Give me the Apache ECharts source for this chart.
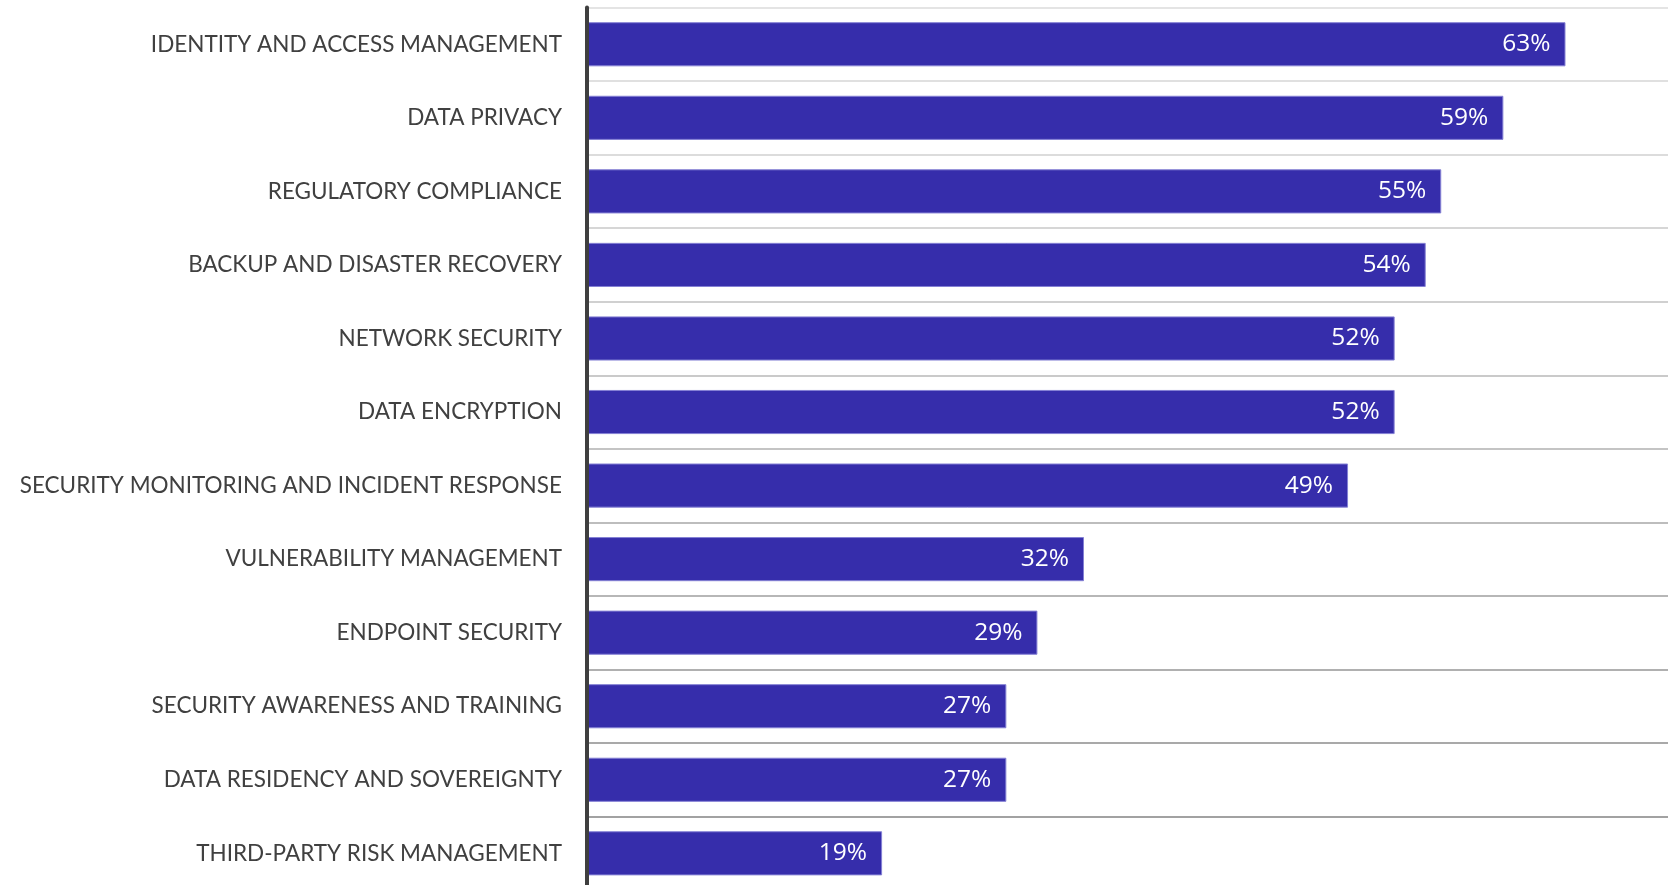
<!DOCTYPE html>
<html>
<head>
<meta charset="utf-8">
<title>Security priorities</title>
<script src="https://cdn.jsdelivr.net/npm/echarts@6/dist/echarts.min.js"></script>
<style>
  html, body { margin: 0; padding: 0; background: #ffffff; }
  #chart { width: 1670px; height: 885px; }
</style>
</head>
<body>
<div id="chart"></div>
<script>
// Categories, top to bottom
const categories = [
  'IDENTITY AND ACCESS MANAGEMENT',
  'DATA PRIVACY',
  'REGULATORY COMPLIANCE',
  'BACKUP AND DISASTER RECOVERY',
  'NETWORK SECURITY',
  'DATA ENCRYPTION',
  'SECURITY MONITORING AND INCIDENT RESPONSE',
  'VULNERABILITY MANAGEMENT',
  'ENDPOINT SECURITY',
  'SECURITY AWARENESS AND TRAINING',
  'DATA RESIDENCY AND SOVEREIGNTY',
  'THIRD-PARTY RISK MANAGEMENT'
];

// Share of respondents (%)
const shares = [63, 59, 55, 54, 52, 52, 49, 32, 29, 27, 27, 19];

// Separator lines darken from top to bottom
const separatorColors = [
  '#e4e4e4', '#e0e0e0', '#dcdcdc', '#d6d6d6', '#d0d0d0', '#cacaca',
  '#c4c4c4', '#bdbdbd', '#b7b7b7', '#b0b0b0', '#a9a9a9', '#a2a2a2', '#9c9c9c'
];

const chart = echarts.init(document.getElementById('chart'), null, { renderer: 'canvas' });

chart.setOption({
  animation: false,
  backgroundColor: '#ffffff',
  // the plot runs slightly past the bottom edge of the canvas
  grid: {
    left: 587, right: 2, top: 7.5, height: 882.6,
    containLabel: false,
    outerBoundsMode: 'none'
  },
  xAxis: {
    type: 'value',
    min: 0,
    max: 69.6,
    show: false
  },
  yAxis: {
    type: 'category',
    data: categories,
    inverse: true,
    z: 5,
    axisLine: { show: true, lineStyle: { color: '#3f3f3f', width: 4 } },
    axisTick: { show: false },
    splitLine: { show: true, lineStyle: { color: separatorColors, width: 2 } },
    axisLabel: {
      margin: 25,
      color: '#404040',
      fontFamily: 'Lato, "Open Sans", sans-serif',
      fontSize: 22.5,
      padding: [5, 0, 0, 0]
    }
  },
  series: [{
    type: 'bar',
    data: shares,
    barCategoryGap: '40%',
    itemStyle: { color: '#362dab', borderColor: '#8480d4', borderWidth: 1 },
    label: {
      show: true,
      position: 'insideRight',
      distance: 15,
      color: '#ffffff',
      fontFamily: '"Open Sans", Lato, sans-serif',
      fontSize: 24.5,
      padding: [5, 0, 0, 0],
      formatter: p => p.value + '%'
    }
  }]
});
</script>
</body>
</html>
